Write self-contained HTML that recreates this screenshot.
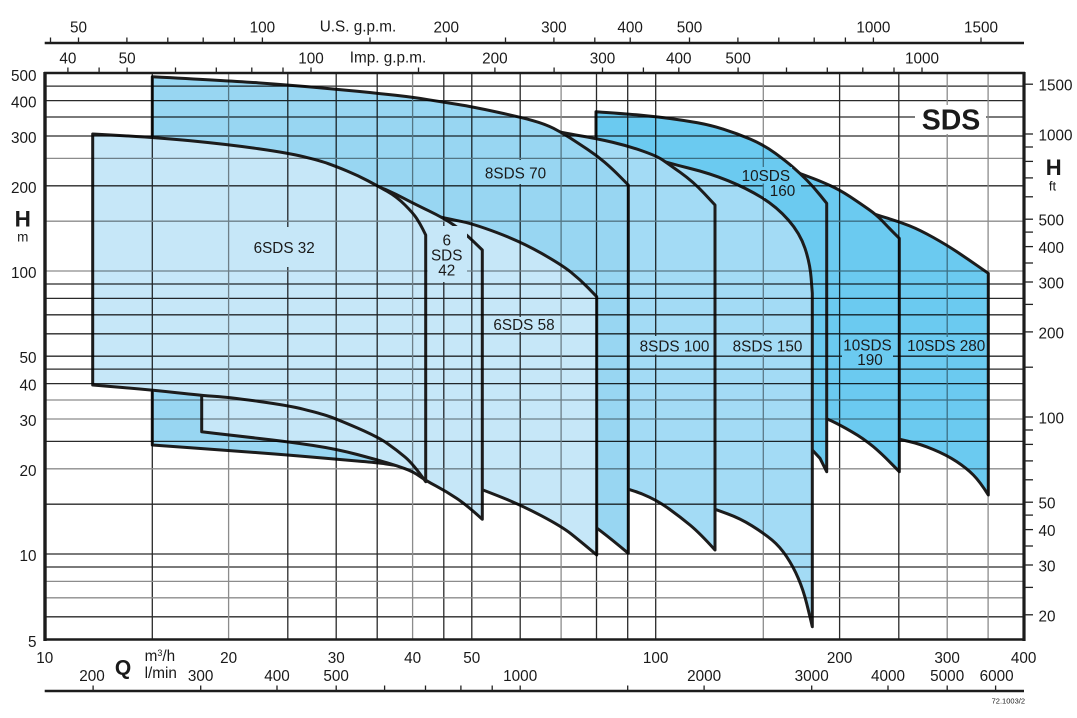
<!DOCTYPE html>
<html><head><meta charset="utf-8">
<style>
html,body{margin:0;padding:0;background:#fff;}
svg{display:block;}
text{font-family:"Liberation Sans",Arial,sans-serif;fill:#1a1a1a;font-size:15.3px;}
</style></head>
<body>
<svg width="1077" height="718" viewBox="0 0 1077 718" xmlns="http://www.w3.org/2000/svg">
<rect width="1077" height="718" fill="#fff"/>

<!-- pump regions, back to front -->
<g stroke="#1c1c1c" stroke-width="3" stroke-linejoin="round">
<path fill="#6bcaf0" d="M860,209 Q876.7,215 888,218.35 Q899.3,221.7 909.65,225.85 Q920,230 933.35,237.5 Q946.7,245 956.7,251.65 Q966.7,258.3 977.5,265.8 L988.3,273.3 L988.3,495 Q980,481.7 973.35,475 Q966.7,468.3 956.7,461.65 Q946.7,455 933.35,449.5 Q920,444 909.65,441.65 Q899.3,439.3 879.65,434.65 L860,430 Z"/>
<path fill="#6bcaf0" d="M780,166 Q806.7,176 813.35,178.5 Q820,181 830,185.5 Q840,190 850,196.65 Q860,203.3 868.35,209.15 Q876.7,215 882.35,221 Q888,227 893.65,232.65 L899.3,238.3 L899.3,471.7 Q883.3,455 873.3,446.65 Q863.3,438.3 851.65,431.65 Q840,425 833,421.65 Q826,418.3 803,409.15 L780,400 Z"/>
<path fill="#6bcaf0" d="M596,111.7 Q628.3,114 642.5,115.35 Q656.7,116.7 670.85,118.6 Q685,120.5 697.5,122.75 Q710,125 723.35,129.15 Q736.7,133.3 750.35,139.15 Q764,145 775.35,153.35 Q786.7,161.7 793.35,167.5 Q800,173.3 806.65,180 Q813.3,186.7 820,195 L826.7,203.3 L826.7,471.7 L820,458.3 L812.3,450 L790,432 L700,405 L596,380 Z"/>
<path fill="#a3dbf5" d="M650,157 Q666.7,162.7 688.35,168 Q710,173.3 728.35,180.8 Q746.7,188.3 761.7,197.5 Q776.7,206.7 788.35,220 Q800,233.3 805,248.3 Q810,263.3 811.15,278.3 L812.3,293.3 L812.3,626.7 Q810,616.7 806.65,603.35 Q803.3,590 798.3,578.35 Q793.3,566.7 786.65,556.7 Q780,546.7 772,540 Q764,533.3 752,525.8 Q740,518.3 727.5,513.8 Q715,509.3 682.5,497.15 L650,485 Z"/>
<path fill="#a3dbf5" d="M530,126 Q562,132.7 579.35,135.6 Q596.7,138.5 612.5,142.25 Q628.3,146 642.5,151 Q656.7,156 661.7,159.35 Q666.7,162.7 680,172.2 Q693.3,181.7 704.15,193.35 L715,205 L715,550 Q700,533.3 690,525 Q680,516.7 668.35,508.35 Q656.7,500 642.5,494.15 Q628.3,488.3 579.15,475.15 L530,462 Z"/>
<path fill="#98d6f2" d="M152.3,76.7 Q228.7,80.7 258.5,82.85 Q288.3,85 312.5,87.15 Q336.7,89.3 357.2,91.3 Q377.7,93.3 395.5,95.3 Q413.3,97.3 428.8,99.8 Q444.3,102.3 458.3,104.5 Q472.3,106.7 496.65,112 Q521,117.3 533,120.65 Q545,124 553.5,128.35 Q562,132.7 570,137.85 Q578,143 587.35,149.25 Q596.7,155.5 604.35,162 Q612,168.5 620.15,176.75 L628.3,185 L628.3,553.3 Q596.7,526.7 579.35,515.85 Q562,505 541.5,497.5 Q521,490 502,483.5 Q483,477 464.85,474.5 Q446.7,472 429.85,470 Q413,468 403.15,466.5 Q393.3,465 385.5,463.85 Q377.7,462.7 357.2,461 Q336.7,459.3 312.5,457.15 Q288.3,455 258.5,452.75 Q228.7,450.5 190.5,447.75 L152.3,445 Z"/>
<path fill="#c6e7f8" d="M420,212 Q444.3,218.3 458.3,220.8 Q472.3,223.3 496.65,232.5 Q521,241.7 541.5,253.35 Q562,265 571,272.25 Q580,279.5 588.35,288.1 L596.7,296.7 L596.7,555 Q580,541 571,533.85 Q562,526.7 541.5,515.85 Q521,505 502.15,497.5 Q483.3,490 451.65,478 L420,466 Z"/>
<path fill="#c6e7f8" d="M201.7,155 Q300,165 338.85,175.5 Q377.7,186 387.2,190.25 Q396.7,194.5 405,198.9 Q413.3,203.3 428.8,210.8 Q444.3,218.3 453.8,225 Q463.3,231.7 472.8,240.85 L482.3,250 L482.3,519.3 Q466.7,505 456.7,498.35 Q446.7,491.7 436.2,486.1 Q425.7,480.5 419.5,476.1 Q413.3,471.7 405,468.7 Q396.7,465.7 387.2,462.85 Q377.7,460 357.2,454.5 Q336.7,449 312.5,445.35 Q288.3,441.7 258.5,438.35 Q228.7,435 215.2,433.35 L201.7,431.7 Z"/>
<path fill="#c6e7f8" d="M92.7,134 Q152.3,137 190.5,140.75 Q228.7,144.5 258.5,148.75 Q288.3,153 304.15,156.85 Q320,160.7 328.35,163.7 Q336.7,166.7 347.35,171.1 Q358,175.5 367.85,180.75 Q377.7,186 387.2,191.35 Q396.7,196.7 405,205 Q413.3,213.3 416.65,218.4 Q420,223.5 422.85,229.25 L425.7,235 L425.7,481.7 Q413.3,464 405,457 Q396.7,450 387.2,443.35 Q377.7,436.7 357.2,427.85 Q336.7,419 328.35,416.15 Q320,413.3 304.15,409.4 Q288.3,405.5 258.5,401.4 Q228.7,397.3 215.2,396.4 Q201.7,395.5 177,392.75 Q152.3,390 122.5,387.5 L92.7,385 Z"/>
</g>

<!-- grid -->
<g style="mix-blend-mode:multiply" stroke-width="1.3">
<g stroke="#2a2a2a">
<line x1="45" x2="1024" y1="86.1" y2="86.1"/>
<line x1="45" x2="1024" y1="100.6" y2="100.6"/>
<line x1="45" x2="1024" y1="117" y2="117"/>
<line x1="45" x2="1024" y1="136" y2="136"/>
<line x1="45" x2="1024" y1="185.8" y2="185.8"/>
<line x1="45" x2="1024" y1="284" y2="284"/>
<line x1="45" x2="1024" y1="298.4" y2="298.4"/>
<line x1="45" x2="1024" y1="314.8" y2="314.8"/>
<line x1="45" x2="1024" y1="333.8" y2="333.8"/>
<line x1="45" x2="1024" y1="356.2" y2="356.2"/>
<line x1="45" x2="1024" y1="369.1" y2="369.1"/>
<line x1="45" x2="1024" y1="383.6" y2="383.6"/>
<line x1="45" x2="1024" y1="441.4" y2="441.4"/>
<line x1="45" x2="1024" y1="504.2" y2="504.2"/>
<line x1="45" x2="1024" y1="554" y2="554"/>
<line x1="45" x2="1024" y1="567" y2="567"/>
<line x1="45" x2="1024" y1="616.8" y2="616.8"/>
<line y1="73" y2="639" x1="152.3" x2="152.3"/>
<line y1="73" y2="639" x1="287.8" x2="287.8"/>
<line y1="73" y2="639" x1="336.2" x2="336.2"/>
<line y1="73" y2="639" x1="377.2" x2="377.2"/>
<line y1="73" y2="639" x1="443.8" x2="443.8"/>
<line y1="73" y2="639" x1="471.8" x2="471.8"/>
<line y1="73" y2="639" x1="520.2" x2="520.2"/>
<line y1="73" y2="639" x1="596.5" x2="596.5"/>
<line y1="73" y2="639" x1="627.7" x2="627.7"/>
<line y1="73" y2="639" x1="655.7" x2="655.7"/>
<line y1="73" y2="639" x1="839.6" x2="839.6"/>
<line y1="73" y2="639" x1="898.8" x2="898.8"/>
</g>
<g stroke="#8c8c8c">
<line x1="45" x2="1024" y1="158.4" y2="158.4"/>
<line x1="45" x2="1024" y1="221.2" y2="221.2"/>
<line x1="45" x2="1024" y1="271" y2="271"/>
<line x1="45" x2="1024" y1="400" y2="400"/>
<line x1="45" x2="1024" y1="419" y2="419"/>
<line x1="45" x2="1024" y1="468.8" y2="468.8"/>
<line x1="45" x2="1024" y1="581.4" y2="581.4"/>
<line x1="45" x2="1024" y1="597.8" y2="597.8"/>
<line y1="73" y2="639" x1="228.6" x2="228.6"/>
<line y1="73" y2="639" x1="412.6" x2="412.6"/>
<line y1="73" y2="639" x1="561.1" x2="561.1"/>
<line y1="73" y2="639" x1="763.3" x2="763.3"/>
<line y1="73" y2="639" x1="947.2" x2="947.2"/>
<line y1="73" y2="639" x1="988.1" x2="988.1"/>
</g>
</g>

<!-- label backgrounds -->
<rect x="250" y="227" width="69" height="40" fill="#c6e7f8"/>
<rect x="427.5" y="226" width="39.5" height="56" fill="#c6e7f8"/>
<rect x="482" y="160" width="67" height="24" fill="#98d6f2"/>
<rect x="490" y="317" width="68" height="15" fill="#c6e7f8"/>
<rect x="637" y="336" width="75" height="18.5" fill="#a3dbf5"/>
<rect x="730" y="336" width="75" height="18.5" fill="#a3dbf5"/>
<rect x="740" y="167" width="52" height="16.5" fill="#6bcaf0"/>
<rect x="764" y="183.5" width="37" height="14.5" fill="#6bcaf0"/>
<rect x="842" y="337" width="51" height="31" fill="#6bcaf0"/>
<rect x="904.5" y="337" width="81.5" height="17.5" fill="#6bcaf0"/>
<rect x="915" y="105" width="71" height="29" fill="#fff"/>

<!-- region labels -->
<g text-anchor="middle">
<text x="284.2" y="252.8">6SDS 32</text>
<text x="446.7" y="245.5">6</text>
<text x="446.7" y="260.5">SDS</text>
<text x="446.7" y="275.5">42</text>
<text x="515.5" y="178.5">8SDS 70</text>
<text x="524" y="330">6SDS 58</text>
<text x="674.5" y="351.7">8SDS 100</text>
<text x="767.5" y="351.7">8SDS 150</text>
<text x="765.8" y="181">10SDS</text>
<text x="782.5" y="196">160</text>
<text x="867.5" y="350.7">10SDS</text>
<text x="870" y="365">190</text>
<text x="946.2" y="351">10SDS 280</text>
<text x="951" y="129.3" style="font-size:28.5px;font-weight:bold">SDS</text>
</g>

<!-- frame -->
<g stroke="#1c1c1c" fill="none">
<line x1="44" x2="1025" y1="73" y2="73" stroke-width="2.5"/>
<line x1="44" x2="1025" y1="639.5" y2="639.5" stroke-width="2.5"/>
<line x1="45" x2="45" y1="72" y2="641" stroke-width="3.4"/>
<line x1="1024" x2="1024" y1="72" y2="641" stroke-width="3.2"/>
<line x1="44.7" x2="1024" y1="43" y2="43" stroke-width="2.5"/>
<line x1="44.7" x2="1024" y1="691" y2="691" stroke-width="2.5"/>
</g>

<!-- ticks -->
<g stroke="#222" stroke-width="1.3">
<line x1="50.5" x2="50.5" y1="37.5" y2="43"/>
<line x1="78.5" x2="78.5" y1="37.5" y2="43"/>
<line x1="126.9" x2="126.9" y1="37.5" y2="43"/>
<line x1="167.8" x2="167.8" y1="37.5" y2="43"/>
<line x1="203.2" x2="203.2" y1="37.5" y2="43"/>
<line x1="234.4" x2="234.4" y1="37.5" y2="43"/>
<line x1="262.4" x2="262.4" y1="37.5" y2="43"/>
<line x1="370" x2="370" y1="37.5" y2="43"/>
<line x1="446.3" x2="446.3" y1="37.5" y2="43"/>
<line x1="505.5" x2="505.5" y1="37.5" y2="43"/>
<line x1="553.9" x2="553.9" y1="37.5" y2="43"/>
<line x1="594.8" x2="594.8" y1="37.5" y2="43"/>
<line x1="630.2" x2="630.2" y1="37.5" y2="43"/>
<line x1="689.5" x2="689.5" y1="37.5" y2="43"/>
<line x1="737.9" x2="737.9" y1="37.5" y2="43"/>
<line x1="778.8" x2="778.8" y1="37.5" y2="43"/>
<line x1="814.2" x2="814.2" y1="37.5" y2="43"/>
<line x1="845.4" x2="845.4" y1="37.5" y2="43"/>
<line x1="873.4" x2="873.4" y1="37.5" y2="43"/>
<line x1="981" x2="981" y1="37.5" y2="43"/>
<line x1="67.9" x2="67.9" y1="67.5" y2="73"/>
<line x1="99.1" x2="99.1" y1="67.5" y2="73"/>
<line x1="127.1" x2="127.1" y1="67.5" y2="73"/>
<line x1="175.5" x2="175.5" y1="67.5" y2="73"/>
<line x1="216.3" x2="216.3" y1="67.5" y2="73"/>
<line x1="251.8" x2="251.8" y1="67.5" y2="73"/>
<line x1="283" x2="283" y1="67.5" y2="73"/>
<line x1="311" x2="311" y1="67.5" y2="73"/>
<line x1="418.5" x2="418.5" y1="67.5" y2="73"/>
<line x1="494.9" x2="494.9" y1="67.5" y2="73"/>
<line x1="554.1" x2="554.1" y1="67.5" y2="73"/>
<line x1="602.5" x2="602.5" y1="67.5" y2="73"/>
<line x1="643.4" x2="643.4" y1="67.5" y2="73"/>
<line x1="678.8" x2="678.8" y1="67.5" y2="73"/>
<line x1="738.1" x2="738.1" y1="67.5" y2="73"/>
<line x1="786.5" x2="786.5" y1="67.5" y2="73"/>
<line x1="827.3" x2="827.3" y1="67.5" y2="73"/>
<line x1="862.8" x2="862.8" y1="67.5" y2="73"/>
<line x1="894" x2="894" y1="67.5" y2="73"/>
<line x1="922" x2="922" y1="67.5" y2="73"/>
<line x1="93.1" x2="93.1" y1="685.5" y2="691"/>
<line x1="200.7" x2="200.7" y1="685.5" y2="691"/>
<line x1="277" x2="277" y1="685.5" y2="691"/>
<line x1="336.2" x2="336.2" y1="685.5" y2="691"/>
<line x1="384.6" x2="384.6" y1="685.5" y2="691"/>
<line x1="425.5" x2="425.5" y1="685.5" y2="691"/>
<line x1="460.9" x2="460.9" y1="685.5" y2="691"/>
<line x1="492.2" x2="492.2" y1="685.5" y2="691"/>
<line x1="520.2" x2="520.2" y1="685.5" y2="691"/>
<line x1="627.7" x2="627.7" y1="685.5" y2="691"/>
<line x1="704.1" x2="704.1" y1="685.5" y2="691"/>
<line x1="811.7" x2="811.7" y1="685.5" y2="691"/>
<line x1="888" x2="888" y1="685.5" y2="691"/>
<line x1="947.2" x2="947.2" y1="685.5" y2="691"/>
<line x1="995.6" x2="995.6" y1="685.5" y2="691"/>
<line x1="1024" x2="1033" y1="84.2" y2="84.2"/>
<line x1="1024" x2="1033" y1="134" y2="134"/>
<line x1="1024" x2="1033" y1="147" y2="147"/>
<line x1="1024" x2="1033" y1="161.4" y2="161.4"/>
<line x1="1024" x2="1033" y1="177.9" y2="177.9"/>
<line x1="1024" x2="1033" y1="196.8" y2="196.8"/>
<line x1="1024" x2="1033" y1="219.2" y2="219.2"/>
<line x1="1024" x2="1033" y1="232.1" y2="232.1"/>
<line x1="1024" x2="1033" y1="246.6" y2="246.6"/>
<line x1="1024" x2="1033" y1="263" y2="263"/>
<line x1="1024" x2="1033" y1="282" y2="282"/>
<line x1="1024" x2="1033" y1="304.4" y2="304.4"/>
<line x1="1024" x2="1033" y1="331.9" y2="331.9"/>
<line x1="1024" x2="1033" y1="367.2" y2="367.2"/>
<line x1="1024" x2="1033" y1="417" y2="417"/>
<line x1="1024" x2="1033" y1="430" y2="430"/>
<line x1="1024" x2="1033" y1="444.4" y2="444.4"/>
<line x1="1024" x2="1033" y1="460.9" y2="460.9"/>
<line x1="1024" x2="1033" y1="479.8" y2="479.8"/>
<line x1="1024" x2="1033" y1="502.2" y2="502.2"/>
<line x1="1024" x2="1033" y1="515.1" y2="515.1"/>
<line x1="1024" x2="1033" y1="529.6" y2="529.6"/>
<line x1="1024" x2="1033" y1="546" y2="546"/>
<line x1="1024" x2="1033" y1="565" y2="565"/>
<line x1="1024" x2="1033" y1="587.4" y2="587.4"/>
<line x1="1024" x2="1033" y1="614.8" y2="614.8"/>
</g>

<!-- top labels -->
<g text-anchor="middle">
<text x="78.5" y="32.5">50</text>
<text x="262.4" y="32.5">100</text>
<text x="446.3" y="32.5">200</text>
<text x="553.9" y="32.5">300</text>
<text x="630.2" y="32.5">400</text>
<text x="689.5" y="32.5">500</text>
<text x="873.4" y="32.5">1000</text>
<text x="981" y="32.5">1500</text>
<text x="358" y="31.5">U.S. g.p.m.</text>
<text x="67.9" y="63.5">40</text>
<text x="127.1" y="63.5">50</text>
<text x="311" y="63.5">100</text>
<text x="494.9" y="63.5">200</text>
<text x="602.5" y="63.5">300</text>
<text x="678.8" y="63.5">400</text>
<text x="738.1" y="63.5">500</text>
<text x="922" y="63.5">1000</text>
<text x="388" y="62.5">Imp. g.p.m.</text>
</g>

<!-- left labels -->
<g text-anchor="end">
<text x="36.5" y="81">500</text>
<text x="36.5" y="107.6">400</text>
<text x="36.5" y="143">300</text>
<text x="36.5" y="192.8">200</text>
<text x="36.5" y="278">100</text>
<text x="36.5" y="363.2">50</text>
<text x="36.5" y="390.6">40</text>
<text x="36.5" y="426">30</text>
<text x="36.5" y="475.8">20</text>
<text x="36.5" y="561">10</text>
<text x="36.5" y="647">5</text>
</g>
<text x="22.8" y="226.7" text-anchor="middle" style="font-size:22.5px;font-weight:bold">H</text>
<text x="22.8" y="241.7" text-anchor="middle" style="font-size:13.5px">m</text>

<!-- right labels -->
<g>
<text x="1038.5" y="90.7">1500</text>
<text x="1038.5" y="140.5">1000</text>
<text x="1038.5" y="225.7">500</text>
<text x="1038.5" y="253.1">400</text>
<text x="1038.5" y="288.5">300</text>
<text x="1038.5" y="338.4">200</text>
<text x="1038.5" y="423.5">100</text>
<text x="1038.5" y="508.7">50</text>
<text x="1038.5" y="536.1">40</text>
<text x="1038.5" y="571.5">30</text>
<text x="1038.5" y="621.3">20</text>
</g>
<text x="1053.7" y="175" text-anchor="middle" style="font-size:22px;font-weight:bold">H</text>
<text x="1052.5" y="190.7" text-anchor="middle" style="font-size:13px">ft</text>

<!-- bottom labels -->
<g text-anchor="middle">
<text x="44.7" y="663">10</text>
<text x="228.6" y="663">20</text>
<text x="336.2" y="663">30</text>
<text x="412.6" y="663">40</text>
<text x="471.8" y="663">50</text>
<text x="655.7" y="663">100</text>
<text x="839.6" y="663">200</text>
<text x="947.2" y="663">300</text>
<text x="1023.6" y="663">400</text>
<text x="92" y="681">200</text>
<text x="200.7" y="681">300</text>
<text x="277" y="681">400</text>
<text x="336.2" y="681">500</text>
<text x="520.2" y="681">1000</text>
<text x="704.1" y="681">2000</text>
<text x="811.7" y="681">3000</text>
<text x="888" y="681">4000</text>
<text x="947.2" y="681">5000</text>
<text x="996.6" y="681">6000</text>
<text x="123" y="674.5" style="font-size:21px;font-weight:bold">Q</text>
</g>
<text x="144.6" y="661">m<tspan style="font-size:9px" dy="-5">3</tspan><tspan dy="5">/h</tspan></text>
<text x="144.6" y="678">l/min</text>
<text x="1025" y="703.5" text-anchor="end" style="font-size:7.5px">72.1003/2</text>
</svg>
</body></html>
